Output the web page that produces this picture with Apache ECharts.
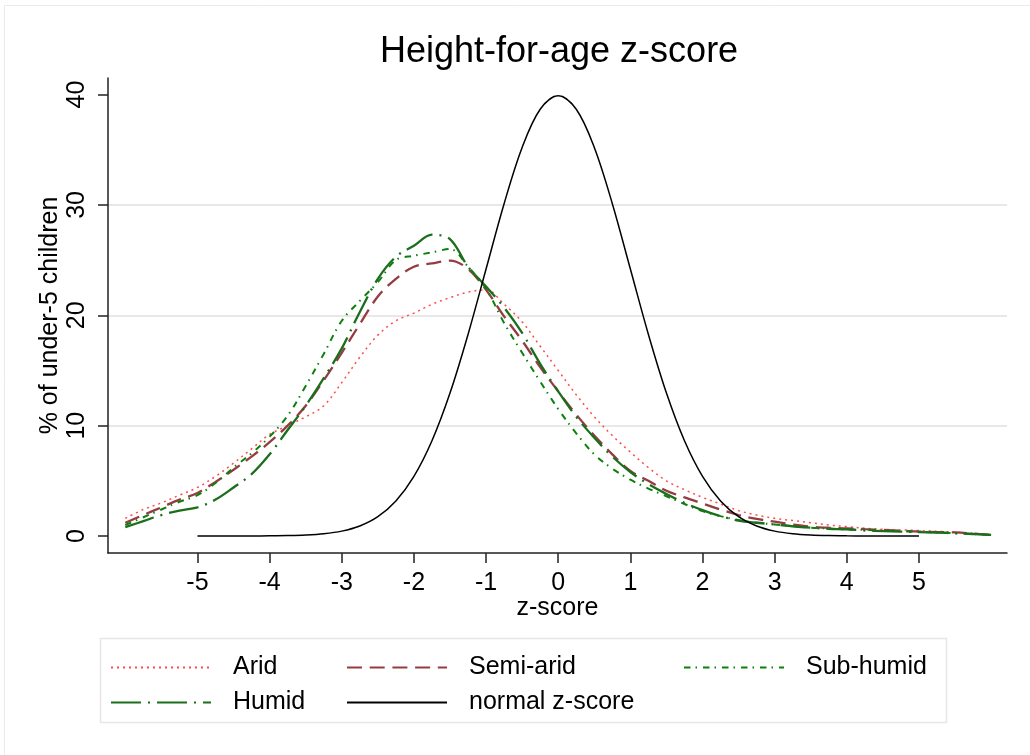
<!DOCTYPE html>
<html>
<head>
<meta charset="utf-8">
<script src="https://cdn.jsdelivr.net/npm/echarts@6/dist/echarts.min.js"></script>
<style>
  html, body { margin: 0; padding: 0; background: #ffffff; }
  #chart { width: 1030px; height: 755px; }
</style>
</head>
<body>
<div id="chart"></div>
<script>
// Height-for-age z-score grid shared by the four regional density curves
const zGrid = [-6, -5.75, -5.5, -5.25, -5, -4.75, -4.5, -4.25, -4, -3.75, -3.5, -3.25,
  -3, -2.75, -2.5, -2.25, -2, -1.75, -1.5, -1.25, -1, -0.75, -0.5, -0.25,
  0, 0.25, 0.5, 0.75, 1, 1.25, 1.5, 1.75, 2, 2.25, 2.5, 2.75, 3, 3.25, 3.5, 3.75,
  4, 4.25, 4.5, 4.75, 5, 5.25, 5.5, 5.75, 6];

// % of under-5 children at each z-score, by agro-ecological zone
const arid = [1.6, 2.4, 3.0, 3.7, 4.4, 5.4, 6.6, 7.9, 9.2, 10.0, 10.8, 11.8,
  13.9, 16.2, 18.2, 19.5, 20.2, 21.0, 21.6, 22.1, 22.3, 21.0, 19.4, 17.2,
  15.0, 12.8, 10.8, 9.1, 7.6, 6.2, 5.0, 4.2, 3.5, 2.9, 2.3, 1.9, 1.6, 1.4, 1.2, 1.0,
  0.85, 0.7, 0.6, 0.55, 0.5, 0.42, 0.35, 0.25, 0.1];
const semiArid = [1.2, 1.9, 2.6, 3.3, 3.9, 4.9, 6.0, 7.2, 8.5, 10.0, 11.8, 14.1,
  16.6, 19.2, 21.7, 23.3, 24.4, 24.7, 24.95, 24.2, 22.3, 19.9, 17.7, 15.3,
  13.1, 11.0, 9.1, 7.4, 5.9, 5.0, 4.1, 3.5, 2.95, 2.4, 1.9, 1.55, 1.3, 1.05, 0.85, 0.75,
  0.7, 0.62, 0.55, 0.48, 0.4, 0.36, 0.32, 0.22, 0.1];
const subHumid = [1.0, 1.7, 2.4, 3.1, 3.7, 4.8, 6.2, 7.5, 9.0, 10.9, 13.6, 16.5,
  19.5, 21.3, 23.0, 25.0, 25.4, 25.7, 26.0, 24.4, 22.4, 19.3, 16.6, 14.0,
  11.5, 9.3, 7.4, 6.1, 5.1, 4.3, 3.6, 2.9, 2.25, 1.8, 1.45, 1.2, 1.05, 0.9, 0.75, 0.68,
  0.6, 0.55, 0.5, 0.44, 0.38, 0.32, 0.25, 0.18, 0.1];
const humid = [0.8, 1.35, 1.9, 2.3, 2.6, 3.3, 4.4, 5.6, 7.4, 9.6, 11.8, 14.3,
  17.0, 20.3, 23.3, 25.3, 26.3, 27.3, 26.9, 24.4, 22.6, 20.7, 18.4, 15.6,
  13.1, 10.8, 8.9, 7.2, 5.8, 4.7, 3.8, 3.0, 2.35, 1.8, 1.4, 1.2, 1.05, 0.88, 0.75, 0.65,
  0.6, 0.5, 0.45, 0.4, 0.35, 0.3, 0.25, 0.18, 0.1];

// Reference standard normal curve (in %)
const normalZ = [-5, -4.75, -4.5, -4.25, -4, -3.75, -3.5, -3.25, -3, -2.75, -2.5, -2.25,
  -2, -1.75, -1.5, -1.25, -1, -0.75, -0.5, -0.25, 0, 0.25, 0.5, 0.75, 1, 1.25,
  1.5, 1.75, 2, 2.25, 2.5, 2.75, 3, 3.25, 3.5, 3.75, 4, 4.25, 4.5, 4.75, 5];
const normalPct = [0.0001, 0.0005, 0.0016, 0.0047, 0.0134, 0.0353, 0.0873, 0.2029,
  0.4432, 0.9094, 1.7528, 3.1740, 5.3991, 8.6277, 12.9518, 18.2649, 24.1971,
  30.1137, 35.2065, 38.6668, 39.8942, 38.6668, 35.2065, 30.1137, 24.1971,
  18.2649, 12.9518, 8.6277, 5.3991, 3.1740, 1.7528, 0.9094, 0.4432, 0.2029,
  0.0873, 0.0353, 0.0134, 0.0047, 0.0016, 0.0005, 0.0001];

const xTicks = [-5, -4, -3, -2, -1, 0, 1, 2, 3, 4, 5];
const yTicks = [0, 10, 20, 30, 40];

const FONT = "'Liberation Sans', Arial, Helvetica, sans-serif";

function pairs(xs, ys) {
  return xs.map((x, i) => [x, ys[i]]);
}

const chart = echarts.init(document.getElementById('chart'), null, { renderer: 'canvas' });

function lineSeries(name, xs, ys, color, width, dash) {
  return {
    name: name,
    type: 'line',
    data: pairs(xs, ys),
    symbol: 'none',
    showSymbol: false,
    smooth: 0.35,
    silent: true,
    itemStyle: { color: color },
    lineStyle: { color: color, width: width, type: dash, cap: 'butt' }
  };
}

// one legend block per entry so the entries sit on a fixed three-column layout
function legendItem(name, left, top) {
  return {
    data: [name],
    left: left,
    top: top,
    padding: 0,
    itemWidth: 100,
    itemHeight: 14,
    selectedMode: false,
    itemStyle: { opacity: 0 },
    textStyle: { fontFamily: FONT, fontSize: 25, color: '#000', padding: [0, 0, 0, 17] }
  };
}

const option = {
  animation: false,
  backgroundColor: '#ffffff',
  title: {
    text: 'Height-for-age z-score',
    left: 380,
    top: 34,
    padding: 0,
    textStyle: { fontFamily: FONT, fontSize: 36, fontWeight: 'normal', color: '#000' }
  },
  grid: { left: 108, right: 23, top: 78, bottom: 202, containLabel: false },
  xAxis: {
    type: 'value',
    min: -6.24,
    max: 6.22,
    name: 'z-score',
    nameLocation: 'middle',
    nameGap: 43,
    nameMoveOverlap: false,
    nameTextStyle: { fontFamily: FONT, fontSize: 25, color: '#000' },
    axisLine: { show: true, onZero: false, lineStyle: { color: '#222', width: 1.5 } },
    axisTick: { show: true, length: 10, customValues: xTicks, lineStyle: { color: '#222', width: 1.5 } },
    axisLabel: { customValues: xTicks, margin: 18, fontFamily: FONT, fontSize: 25, color: '#000' },
    splitLine: { show: false }
  },
  yAxis: {
    type: 'value',
    min: -1.54,
    max: 41.5,
    name: '% of under-5 children',
    nameLocation: 'middle',
    nameGap: 45,
    nameMoveOverlap: false,
    nameRotate: 90,
    nameTextStyle: { fontFamily: FONT, fontSize: 25, color: '#000' },
    axisLine: { show: true, onZero: false, lineStyle: { color: '#222', width: 1.5 } },
    axisTick: { show: true, length: 10, customValues: yTicks, lineStyle: { color: '#222', width: 1.5 } },
    axisLabel: { customValues: yTicks, rotate: 90, margin: 18, fontFamily: FONT, fontSize: 25, color: '#000' },
    splitLine: { show: true, showMinLine: false, showMaxLine: false, lineStyle: { color: '#e8e8e8', width: 2 } }
  },
  legend: [
    legendItem('Arid', 110, 655),
    legendItem('Semi-arid', 346, 655),
    legendItem('Sub-humid', 683, 655),
    legendItem('Humid', 110, 690),
    legendItem('normal z-score', 346, 690)
  ],
  graphic: [
    {
      type: 'rect', silent: true, z: -10,
      shape: { x: 4.5, y: 5.5, width: 1040, height: 770 },
      style: { fill: 'none', stroke: '#ebebeb', lineWidth: 1 }
    },
    {
      type: 'rect', silent: true, z: -10,
      shape: { x: 100.5, y: 638.5, width: 846, height: 84 },
      style: { fill: 'none', stroke: '#e6e6e6', lineWidth: 1.5 }
    }
  ],
  series: [
    lineSeries('Arid', zGrid, arid, '#ff4a4a', 1.5, [2, 4]),
    lineSeries('Semi-arid', zGrid, semiArid, '#953c43', 2.3, [15, 7.7]),
    lineSeries('Sub-humid', zGrid, subHumid, '#0c800c', 2, [6.5, 5, 1.5, 6]),
    lineSeries('Humid', zGrid, humid, '#1b6e1b', 2.3, [30, 7, 2, 7]),
    lineSeries('normal z-score', normalZ, normalPct, '#000000', 1.5, 'solid')
  ]
};

chart.setOption(option);
</script>
</body>
</html>
